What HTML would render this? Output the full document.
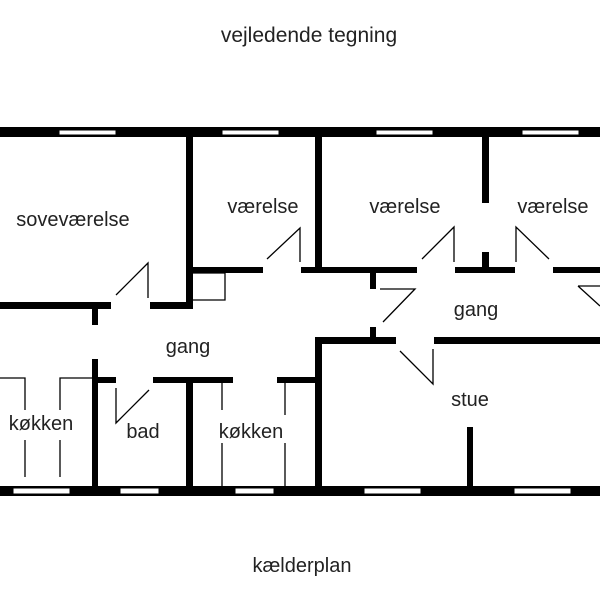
<!DOCTYPE html>
<html><head><meta charset="utf-8"><style>
html,body{margin:0;padding:0;background:#fff;}
svg{display:block;}
text{font-family:"Liberation Sans",sans-serif;fill:#222;}
</style></head><body>
<svg width="600" height="600" viewBox="0 0 600 600" xmlns="http://www.w3.org/2000/svg">
<rect width="600" height="600" fill="#fff"/>
<text x="309" y="42" font-size="21" text-anchor="middle">vejledende tegning</text>
<text x="302" y="572" font-size="20" text-anchor="middle">kælderplan</text>
<g fill="#000">
<rect x="0" y="127" width="600" height="10"/>
<rect x="0" y="486" width="600" height="10"/>
<rect x="186" y="137" width="7" height="172"/>
<rect x="315" y="137" width="7" height="136"/>
<rect x="482" y="137" width="7" height="66"/>
<rect x="482" y="252" width="7" height="18"/>
<rect x="192" y="267" width="71" height="6"/>
<rect x="301" y="267" width="116" height="6"/>
<rect x="455" y="267" width="60" height="6"/>
<rect x="553" y="267" width="47" height="6"/>
<rect x="0" y="302" width="111" height="7"/>
<rect x="150" y="302" width="42" height="7"/>
<rect x="92" y="309" width="6" height="16"/>
<rect x="370" y="273" width="6" height="16"/>
<rect x="370" y="327" width="6" height="16"/>
<rect x="315" y="337" width="81" height="7"/>
<rect x="434" y="337" width="166" height="7"/>
<rect x="315" y="337" width="7" height="150"/>
<rect x="467" y="427" width="6" height="60"/>
<rect x="92" y="359" width="6" height="128"/>
<rect x="92" y="377" width="24" height="6"/>
<rect x="153" y="377" width="80" height="6"/>
<rect x="277" y="377" width="40" height="6"/>
<rect x="186" y="377" width="7" height="110"/>
</g>
<g fill="#fff" stroke="#000" stroke-width="1">
<rect x="59" y="130" width="57" height="5"/>
<rect x="222" y="130" width="57" height="5"/>
<rect x="376" y="130" width="57" height="5"/>
<rect x="522" y="130" width="57" height="5"/>
<rect x="13" y="488" width="57" height="6"/>
<rect x="120" y="488" width="39" height="6"/>
<rect x="235" y="488" width="39" height="6"/>
<rect x="364" y="488" width="57" height="6"/>
<rect x="514" y="488" width="57" height="6"/>
</g>
<g stroke="#000" stroke-width="1.3" fill="none">
<path d="M116 295 L148 263 L148 298"/>
<path d="M267 259 L300 228 L300 262"/>
<path d="M422 259 L454 227 L454 262"/>
<path d="M516 262 L516 227 L549 259"/>
<path d="M380 289 L415 289 L383 322"/>
<path d="M578 286 L600 286 M578 286 L600 306"/>
<path d="M400 351 L433 384 L433 349"/>
<path d="M116 388 L116 423 L149 390"/>
<path d="M193 273 L225 273 L225 300 L193 300"/>
<path d="M0 378 L25 378 L25 410 M25 440 L25 477"/>
<path d="M92 378 L60 378 L60 410 M60 440 L60 477"/>
<path d="M222 383 L222 410 M222 443 L222 486"/>
<path d="M285 383 L285 415 M285 443 L285 486"/>
</g>
<g font-size="20" text-anchor="middle">
<text x="73" y="226">soveværelse</text>
<text x="263" y="213">værelse</text>
<text x="405" y="213">værelse</text>
<text x="553" y="213">værelse</text>
<text x="476" y="316">gang</text>
<text x="188" y="353">gang</text>
<text x="470" y="406">stue</text>
<text x="41" y="430">køkken</text>
<text x="143" y="438">bad</text>
<text x="251" y="438">køkken</text>
</g>
</svg>
</body></html>
